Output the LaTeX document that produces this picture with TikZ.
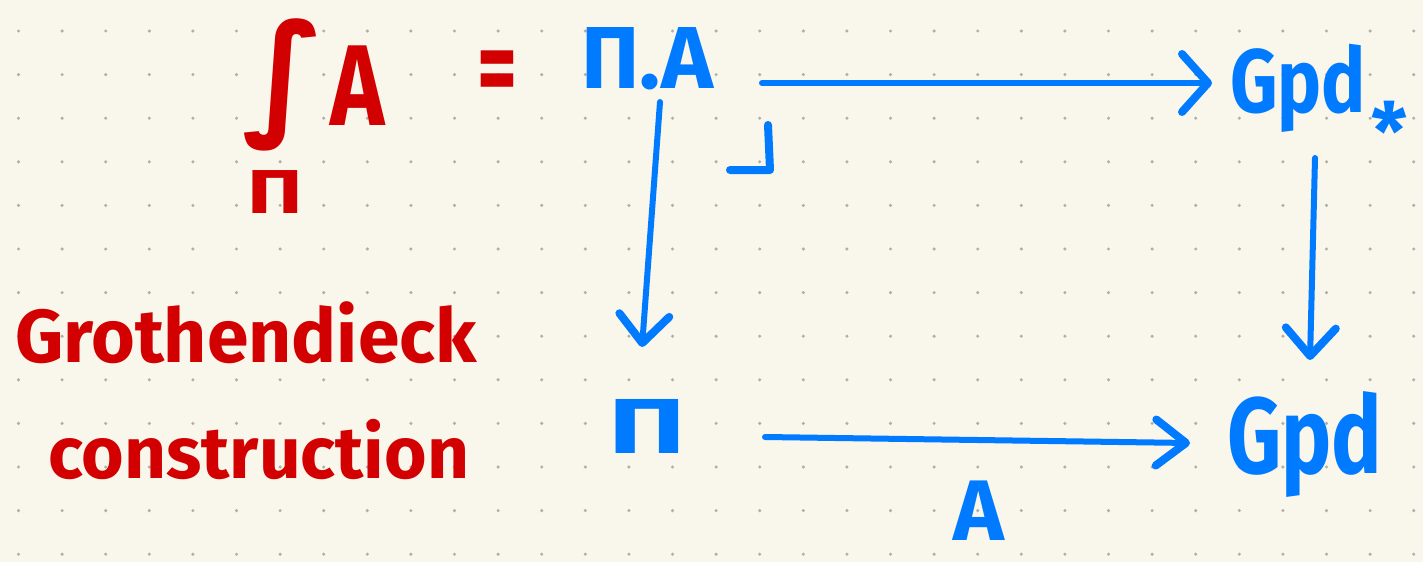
\documentclass[tikz,border=0pt]{standalone}
\usepackage{fontspec}
\setmainfont{Fira Sans}
\newfontfamily\symfont{DejaVu Sans}
\usetikzlibrary{arrows.meta,calc}
\definecolor{hb}{RGB}{0,122,255}
\definecolor{hr}{RGB}{210,0,0}
\definecolor{paper}{RGB}{249,246,235}
\definecolor{dotc}{RGB}{176,174,168}
\newcommand\fsz[1]{\fontsize{#1}{#1}\selectfont}
\begin{document}
\begin{tikzpicture}[x=1pt,y=-1pt,
  txt/.style={inner sep=0pt,outer sep=0pt,anchor=base west,font=\bfseries},
  bluetxt/.style={txt,text=hb},
  redtxt/.style={txt,text=hr},
  shaft/.style={draw=hb,line width=6pt,line cap=round,line join=round},
  varrow/.style={shaft,-{Straight Barb[length=28pt,width=50pt,line width=8pt,round]}},
  toparrow/.style={shaft,-{Straight Barb[length=26pt,width=58pt,line width=8pt,round]}},
  botarrow/.style={shaft,-{Straight Barb[length=30pt,width=46pt,line width=8pt,round]}},
  corner/.style={draw=hb,line width=8pt,line cap=round,line join=round}]
\useasboundingbox (0,0) rectangle (1423,562);
\fill[paper] (0,0) rectangle (1423,562);
\foreach \i in {0,...,32}{
  \foreach \j in {0,...,12}{
    \fill[dotc] (18.5+43.6*\i,31+43.6*\j) circle (1.7);
  }
}
% red formula
\node[redtxt,anchor=center,font={\symfont\bfseries}] (intsign) at (284,85) {\fsz{135}∫};
\node[redtxt] (intA) at (330,125) {\fsz{115}\scalebox{0.8}[1]{A}};
\node[redtxt] (intPi) at (247,213) {\fsz{62}\scalebox{1.35}[1]{Π}};
\node[redtxt,anchor=center] (eqsign) at (497,78) {\fsz{110}\scalebox{0.7}[1]{=}};
\node[redtxt] (grot1) at (15,362) {\fsz{75}Grothendieck};
\node[redtxt] (grot2) at (48,478) {\fsz{73}construction};
% blue diagram
\node[bluetxt] (PiA) at (581,88) {\fsz{88}Π.A};
\node[bluetxt] (Gpds) at (1230,112) {\fsz{90}\scalebox{0.82}[1]{Gpd}\hspace{6pt}\raisebox{-48pt}{\fsz{80}*}};
\node[bluetxt] (Pi) at (608,453) {\fsz{78}\scalebox{1.5}[1]{Π}};
\node[bluetxt] (Gpd) at (1227,473) {\fsz{108}\scalebox{0.78}[1]{Gpd}};
\node[bluetxt] (labA) at (953,540) {\fsz{86}A};
% connectors
\draw[toparrow] ($(PiA.base west)+(181,-5)$) -- ($(Gpds.base west)+(-18,-29)$);
\draw[varrow] ($(PiA.base west)+(79,14)$) -- ($(Pi.base west)+(34,-106)$);
\draw[varrow] ($(Gpds.base west)+(85,46)$) -- ($(Gpd.base west)+(83,-113)$);
\draw[botarrow] ($(Pi.base west)+(157,-16)$) -- ($(Gpd.base west)+(-37,-30)$);
% pullback corner
\draw[corner] (730,170) -- (770,170) -- (768,125);
\end{tikzpicture}
\end{document}
